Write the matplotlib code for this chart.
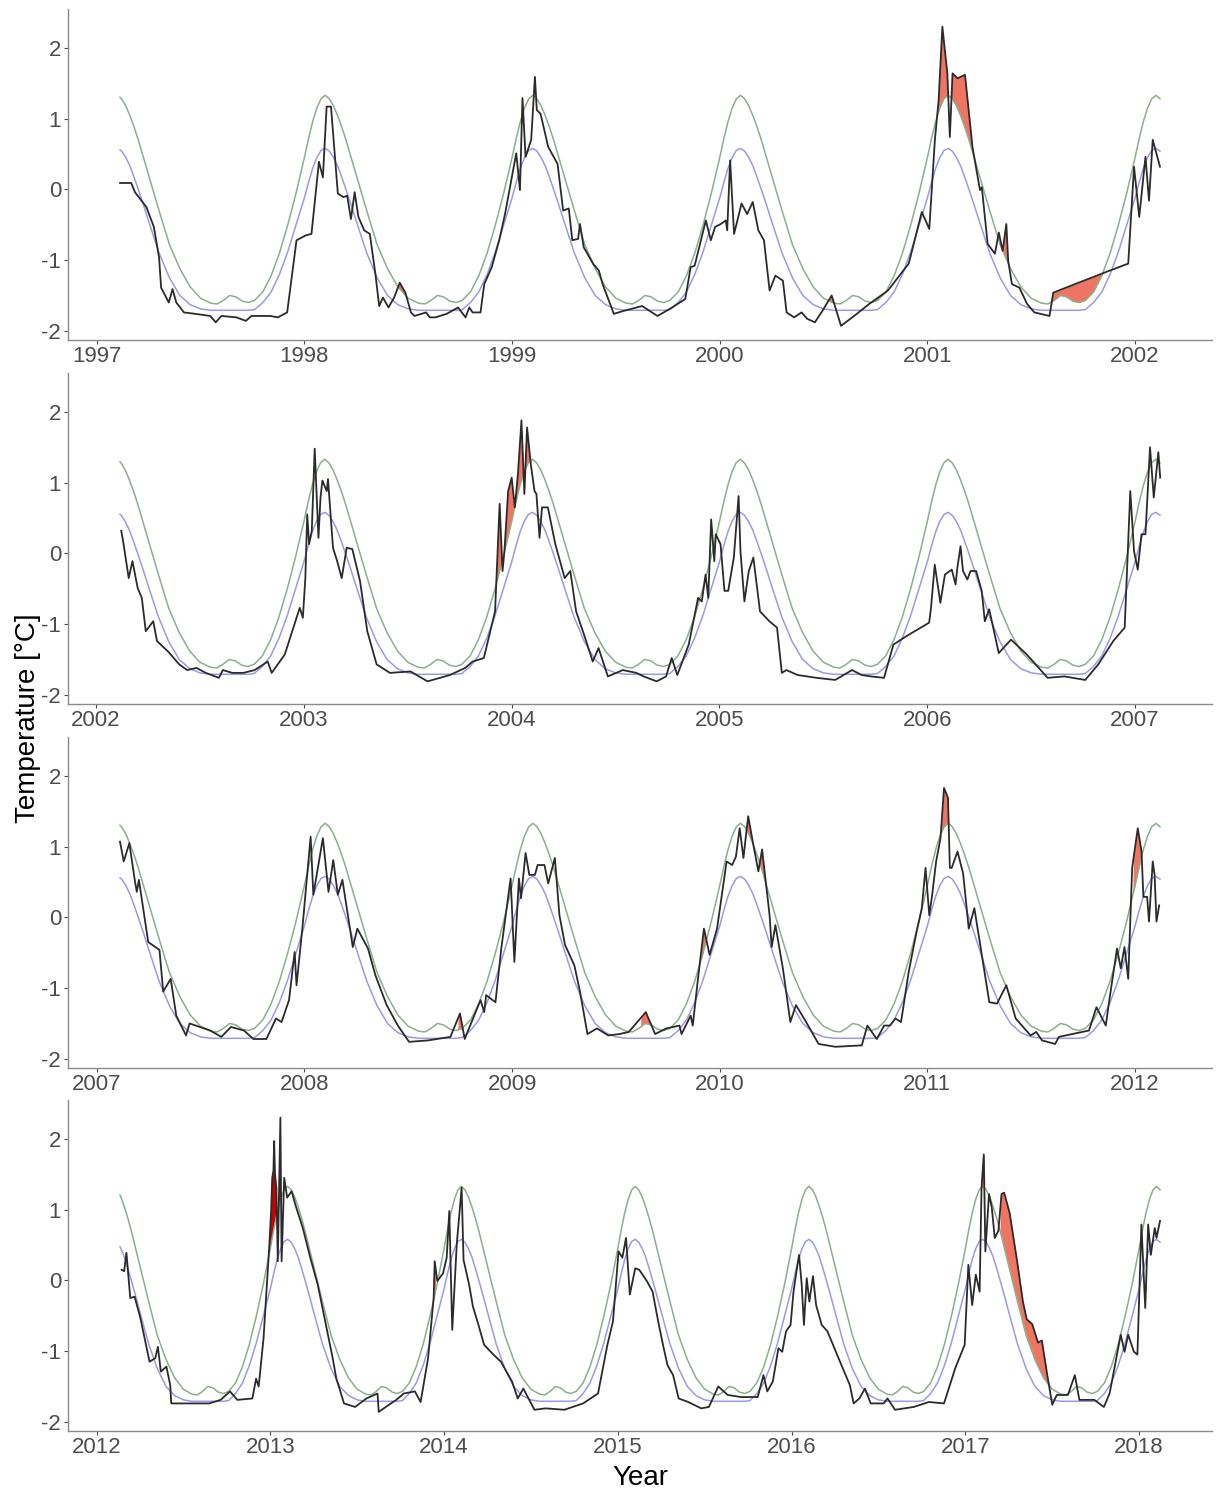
import numpy as np
import matplotlib
matplotlib.use("Agg")
import matplotlib.pyplot as plt

plt.rcParams["font.family"] = ["Liberation Sans", "DejaVu Sans"]
plt.rcParams["axes.unicode_minus"] = False

# one annual cycle of the climatology (fraction of year -> degC)
cycle_frac = [0.00, 0.02, 0.04, 0.06, 0.08, 0.10, 0.12, 0.14, 0.16, 0.18, 0.20, 0.225, 0.25,
              0.30, 0.35, 0.40, 0.45, 0.50, 0.55, 0.58, 0.61, 0.64, 0.67, 0.70, 0.73, 0.76,
              0.80, 0.84, 0.88, 0.92, 0.96]
seas_cycle = [-0.12, 0.10, 0.30, 0.45, 0.55, 0.58, 0.54, 0.45, 0.33, 0.17, 0.0, -0.22, -0.45,
              -0.90, -1.25, -1.50, -1.63, -1.69, -1.71, -1.71, -1.71, -1.71, -1.71, -1.71, -1.71, -1.70,
              -1.60, -1.45, -1.20, -0.88, -0.50]
thresh_cycle = [0.45, 0.72, 0.96, 1.15, 1.28, 1.33, 1.28, 1.18, 1.04, 0.88, 0.70, 0.45, 0.20,
                -0.30, -0.78, -1.12, -1.38, -1.54, -1.61, -1.62, -1.57, -1.50, -1.52, -1.58, -1.60, -1.57,
                -1.45, -1.22, -0.90, -0.50, -0.05]

# start / end of each panel (decimal years)
panel_start = [1997.112, 2002.115, 2007.112, 2012.135]
panel_end = [2002.12, 2007.12, 2012.12, 2018.12]

# observed temperature, panel by panel
obs_yr_1 = [1997.112, 1997.166, 1997.184, 1997.239, 1997.275, 1997.30, 1997.31, 1997.347, 1997.365, 1997.383,
            1997.42, 1997.474, 1997.546, 1997.573, 1997.60, 1997.673, 1997.718, 1997.745, 1997.835, 1997.872,
            1997.917, 1997.962, 1998.007, 1998.034, 1998.07, 1998.089, 1998.107, 1998.128, 1998.161, 1998.188,
            1998.206, 1998.224, 1998.242, 1998.26, 1998.288, 1998.315, 1998.342, 1998.36, 1998.378, 1998.405,
            1998.432, 1998.459, 1998.486, 1998.513, 1998.53, 1998.586, 1998.604, 1998.63, 1998.685, 1998.74,
            1998.776, 1998.794, 1998.81, 1998.848, 1998.866, 1998.902, 1998.938, 1998.966, 1999.002, 1999.02,
            1999.038, 1999.05, 1999.065, 1999.092, 1999.11, 1999.119, 1999.137, 1999.174, 1999.219, 1999.246,
            1999.273, 1999.29, 1999.318, 1999.327, 1999.345, 1999.39, 1999.418, 1999.436, 1999.49, 1999.535,
            1999.626, 1999.70, 1999.76, 1999.834, 1999.86, 1999.879, 1999.933, 1999.957, 1999.978, 2000.005,
            2000.029, 2000.036, 2000.05, 2000.069, 2000.105, 2000.132, 2000.159, 2000.186, 2000.213, 2000.24,
            2000.268, 2000.304, 2000.322, 2000.358, 2000.394, 2000.421, 2000.458, 2000.494, 2000.539, 2000.557,
            2000.584, 2000.647, 2000.72, 2000.81, 2000.91, 2000.973, 2001.009, 2001.036, 2001.054, 2001.072,
            2001.096, 2001.108, 2001.121, 2001.145, 2001.181, 2001.217, 2001.253, 2001.262, 2001.29, 2001.325,
            2001.344, 2001.362, 2001.38, 2001.389, 2001.407, 2001.443, 2001.48, 2001.515, 2001.588, 2001.606,
            2001.859, 2001.967, 2001.995, 2002.02, 2002.05, 2002.067, 2002.085, 2002.12]
obs_t_1 = [0.09, 0.09, -0.04, -0.25, -0.53, -0.96, -1.39, -1.60, -1.41, -1.60,
           -1.74, -1.76, -1.79, -1.88, -1.79, -1.81, -1.86, -1.79, -1.79, -1.81,
           -1.74, -0.72, -0.65, -0.63, 0.39, 0.17, 1.17, 1.17, -0.06, -0.11,
           -0.09, -0.42, -0.04, -0.39, -0.58, -0.63, -1.20, -1.65, -1.53, -1.67,
           -1.53, -1.32, -1.46, -1.74, -1.79, -1.74, -1.81, -1.81, -1.76, -1.67,
           -1.81, -1.67, -1.74, -1.74, -1.34, -1.10, -0.72, -0.35, 0.22, 0.51,
           -0.01, 1.29, 0.46, 0.70, 1.59, 1.12, 1.07, 0.60, 0.36, -0.30,
           -0.27, -0.72, -0.70, -0.49, -0.82, -1.05, -1.15, -1.34, -1.76, -1.72,
           -1.65, -1.79, -1.69, -1.55, -1.10, -1.08, -0.44, -0.72, -0.53, -0.49,
           -0.44, -0.58, 0.41, -0.63, -0.20, -0.35, -0.18, -0.58, -0.72, -1.43,
           -1.22, -1.29, -1.74, -1.81, -1.74, -1.83, -1.88, -1.72, -1.50, -1.67,
           -1.93, -1.79, -1.62, -1.43, -1.05, -0.32, -0.56, 0.70, 1.26, 2.30,
           1.64, 0.74, 1.64, 1.57, 1.62, 0.60, -0.01, 0.03, -0.77, -0.91,
           -0.61, -0.87, -0.49, -1.01, -1.34, -1.39, -1.62, -1.74, -1.79, -1.46,
           -1.17, -1.05, 0.32, -0.39, 0.46, -0.16, 0.70, 0.32]

obs_yr_2 = [2002.121, 2002.13, 2002.157, 2002.175, 2002.20, 2002.22, 2002.239, 2002.275, 2002.293, 2002.347,
            2002.40, 2002.438, 2002.483, 2002.528, 2002.591, 2002.61, 2002.655, 2002.709, 2002.763, 2002.826,
            2002.845, 2002.908, 2002.98, 2002.995, 2003.007, 2003.016, 2003.025, 2003.038, 2003.052, 2003.07,
            2003.08, 2003.089, 2003.11, 2003.116, 2003.14, 2003.16, 2003.182, 2003.206, 2003.233, 2003.27,
            2003.305, 2003.35, 2003.414, 2003.513, 2003.595, 2003.703, 2003.776, 2003.812, 2003.866, 2003.92,
            2003.942, 2003.956, 2003.965, 2003.983, 2004.0, 2004.015, 2004.03, 2004.047, 2004.061, 2004.074,
            2004.092, 2004.11, 2004.119, 2004.134, 2004.146, 2004.174, 2004.21, 2004.255, 2004.282, 2004.31,
            2004.354, 2004.39, 2004.418, 2004.463, 2004.535, 2004.60, 2004.635, 2004.698, 2004.743, 2004.77,
            2004.797, 2004.852, 2004.897, 2004.915, 2004.933, 2004.946, 2004.96, 2004.975, 2004.982, 2005.005,
            2005.024, 2005.042, 2005.069, 2005.092, 2005.101, 2005.12, 2005.141, 2005.163, 2005.195, 2005.24,
            2005.277, 2005.30, 2005.322, 2005.376, 2005.467, 2005.557, 2005.638, 2005.684, 2005.729, 2005.792,
            2005.837, 2005.90, 2006.009, 2006.018, 2006.036, 2006.063, 2006.085, 2006.118, 2006.136, 2006.145,
            2006.16, 2006.172, 2006.193, 2006.208, 2006.235, 2006.262, 2006.277, 2006.298, 2006.344, 2006.403,
            2006.479, 2006.579, 2006.66, 2006.76, 2006.823, 2006.895, 2006.95, 2006.977, 2006.995, 2007.013,
            2007.031, 2007.05, 2007.072, 2007.09, 2007.112, 2007.121]
obs_t_2 = [0.32, 0.17, -0.35, -0.11, -0.49, -0.63, -1.10, -0.96, -1.24, -1.39,
           -1.57, -1.65, -1.62, -1.69, -1.76, -1.65, -1.69, -1.69, -1.65, -1.53,
           -1.69, -1.43, -0.77, -0.91, -0.35, 0.55, 0.13, 0.32, 1.48, 0.22,
           0.79, 1.03, 0.88, 1.05, 0.08, -0.11, -0.35, 0.08, 0.06, -0.39,
           -1.10, -1.57, -1.69, -1.67, -1.81, -1.72, -1.62, -1.53, -1.48, -0.82,
           0.70, -0.25, 0.03, 0.88, 1.07, 0.65, 1.12, 1.88, 0.84, 1.78,
           1.26, 0.88, 0.84, 0.22, 0.65, 0.65, 0.13, -0.35, -0.25, -0.82,
           -1.20, -1.53, -1.34, -1.74, -1.65, -1.69, -1.74, -1.81, -1.74, -1.48,
           -1.72, -1.29, -0.63, -0.68, -0.30, -0.63, 0.48, -0.11, 0.27, 0.13,
           -0.53, -0.53, -0.06, 0.81, 0.03, -0.68, -0.25, -0.06, -0.82, -0.96,
           -1.05, -1.69, -1.65, -1.72, -1.76, -1.79, -1.65, -1.72, -1.74, -1.76,
           -1.29, -1.17, -0.98, -0.77, -0.16, -0.70, -0.30, -0.23, -0.44, -0.20,
           0.10, -0.25, -0.37, -0.25, -0.25, -0.53, -0.96, -0.79, -1.41, -1.22,
           -1.43, -1.76, -1.74, -1.79, -1.57, -1.24, -1.05, 0.88, 0.03, -0.23,
           0.27, 0.27, 1.50, 0.79, 1.43, 1.07]

obs_yr_3 = [2007.112, 2007.13, 2007.157, 2007.184, 2007.193, 2007.203, 2007.248, 2007.302, 2007.32, 2007.356,
            2007.383, 2007.43, 2007.447, 2007.546, 2007.60, 2007.646, 2007.709, 2007.754, 2007.817, 2007.863,
            2007.89, 2007.926, 2007.953, 2007.962, 2007.99, 2008.03, 2008.043, 2008.089, 2008.116, 2008.139,
            2008.161, 2008.183, 2008.233, 2008.255, 2008.306, 2008.342, 2008.396, 2008.45, 2008.504, 2008.595,
            2008.703, 2008.749, 2008.772, 2008.812, 2008.848, 2008.866, 2008.875, 2008.92, 2008.948, 2008.993,
            2009.011, 2009.033, 2009.043, 2009.065, 2009.083, 2009.11, 2009.123, 2009.156, 2009.174, 2009.206,
            2009.228, 2009.255, 2009.30, 2009.327, 2009.363, 2009.409, 2009.463, 2009.517, 2009.562, 2009.644,
            2009.689, 2009.743, 2009.806, 2009.816, 2009.86, 2009.87, 2009.897, 2009.924, 2009.951, 2009.987,
            2010.033, 2010.06, 2010.078, 2010.096, 2010.114, 2010.137, 2010.159, 2010.186, 2010.204, 2010.24,
            2010.25, 2010.268, 2010.304, 2010.34, 2010.367, 2010.412, 2010.476, 2010.557, 2010.684, 2010.711,
            2010.756, 2010.792, 2010.82, 2010.846, 2010.873, 2010.91, 2010.946, 2010.973, 2010.991, 2011.009,
            2011.023, 2011.042, 2011.063, 2011.08, 2011.099, 2011.108, 2011.117, 2011.145, 2011.172, 2011.199,
            2011.226, 2011.262, 2011.298, 2011.335, 2011.38, 2011.425, 2011.497, 2011.524, 2011.552, 2011.615,
            2011.633, 2011.778, 2011.814, 2011.859, 2011.877, 2011.913, 2011.931, 2011.949, 2011.967, 2011.986,
            2012.013, 2012.031, 2012.04, 2012.058, 2012.067, 2012.085, 2012.094, 2012.103, 2012.116]
obs_t_3 = [1.07, 0.79, 1.05, 0.51, 0.36, 0.53, -0.35, -0.46, -1.05, -0.87,
           -1.39, -1.67, -1.50, -1.60, -1.69, -1.55, -1.60, -1.72, -1.72, -1.43,
           -1.48, -1.17, -0.49, -0.96, -0.16, 1.14, 0.32, 1.12, 0.36, 0.81,
           0.32, 0.53, -0.42, -0.16, -0.44, -0.82, -1.24, -1.53, -1.76, -1.74,
           -1.69, -1.36, -1.72, -1.43, -1.17, -1.34, -1.10, -1.20, -0.44, 0.55,
           -0.63, 0.55, 0.27, 0.91, 0.60, 0.60, 0.74, 0.74, 0.48, 0.84,
           0.03, -0.39, -0.68, -1.05, -1.65, -1.57, -1.67, -1.65, -1.62, -1.34,
           -1.65, -1.57, -1.53, -1.65, -1.39, -1.53, -0.82, -0.16, -0.53, -0.16,
           0.79, 0.74, 0.86, 1.26, 0.84, 1.43, 1.07, 0.65, 0.96, 0.03,
           -0.42, -0.11, -0.72, -1.48, -1.24, -1.46, -1.79, -1.83, -1.81, -1.53,
           -1.72, -1.53, -1.53, -1.43, -1.48, -0.77, -0.23, 0.13, 0.70, 0.03,
           0.32, 0.79, 1.12, 1.83, 1.69, 0.70, 0.70, 0.93, 0.62, -0.16,
           0.13, -0.53, -1.20, -1.22, -0.96, -1.43, -1.67, -1.62, -1.74, -1.79,
           -1.69, -1.60, -1.27, -1.53, -1.15, -0.44, -0.72, -0.42, -0.87, 0.70,
           1.26, 0.93, 0.29, 0.29, -0.06, 0.79, 0.60, -0.06, 0.17]

obs_yr_4 = [2012.144, 2012.159, 2012.172, 2012.194, 2012.219, 2012.252, 2012.305, 2012.338, 2012.353, 2012.37,
            2012.402, 2012.424, 2012.43, 2012.542, 2012.649, 2012.714, 2012.768, 2012.81, 2012.897, 2012.918,
            2012.933, 2012.961, 2012.994, 2013.005, 2013.011, 2013.018, 2013.022, 2013.027, 2013.035, 2013.043,
            2013.058, 2013.065, 2013.08,
            2013.097, 2013.123, 2013.144, 2013.187, 2013.23, 2013.273, 2013.316, 2013.359, 2013.38, 2013.398,
            2013.424, 2013.488, 2013.553, 2013.617, 2013.624, 2013.682, 2013.725, 2013.768, 2013.832, 2013.865,
            2013.908, 2013.94, 2013.946, 2013.961, 2013.994, 2014.015, 2014.03, 2014.047, 2014.073, 2014.101,
            2014.112, 2014.144, 2014.166, 2014.198, 2014.23, 2014.284, 2014.327, 2014.391, 2014.424, 2014.456,
            2014.52, 2014.585, 2014.692, 2014.80, 2014.886, 2014.94, 2014.972, 2015.004, 2015.026, 2015.047,
            2015.069, 2015.10, 2015.123, 2015.167, 2015.20, 2015.232, 2015.264, 2015.286, 2015.318, 2015.35,
            2015.405, 2015.48, 2015.524, 2015.578, 2015.632, 2015.708, 2015.805, 2015.838, 2015.86, 2015.892,
            2015.924, 2015.946, 2015.968, 2015.994, 2016.011, 2016.028, 2016.043, 2016.058, 2016.071, 2016.087,
            2016.102, 2016.123, 2016.141, 2016.173, 2016.206, 2016.27, 2016.335, 2016.357, 2016.39, 2016.422,
            2016.455, 2016.53, 2016.552, 2016.595, 2016.703, 2016.79, 2016.877, 2016.942, 2016.996, 2017.017,
            2017.039, 2017.06, 2017.082, 2017.093, 2017.106, 2017.115, 2017.136, 2017.152, 2017.169, 2017.19,
            2017.208, 2017.223, 2017.255, 2017.299, 2017.331, 2017.353, 2017.385, 2017.418, 2017.44, 2017.472,
            2017.50, 2017.526, 2017.59, 2017.63, 2017.656, 2017.742, 2017.797, 2017.83, 2017.894, 2017.916,
            2017.937, 2017.97, 2017.99, 2018.013, 2018.035, 2018.052, 2018.067, 2018.09, 2018.10, 2018.12]
obs_t_4 = [0.15, 0.13, 0.39, -0.25, -0.23, -0.53, -1.15, -1.10, -0.94, -1.29,
           -1.22, -1.48, -1.74, -1.74, -1.74, -1.69, -1.57, -1.69, -1.67, -1.39,
           -1.50, -0.82, 0.48, 1.00, 1.45, 1.55, 1.97, 1.50, 1.30, 0.27,
           2.30, 0.27, 1.45,
           1.17, 1.26, 1.07, 0.74, 0.32, -0.06, -0.58, -1.10, -1.39, -1.53,
           -1.74, -1.79, -1.67, -1.60, -1.86, -1.76, -1.69, -1.60, -1.57, -1.72,
           -1.10, -0.25, 0.27, -0.01, 0.10, 0.32, 0.98, -0.70, 0.51, 1.31,
           0.29, -0.06, -0.37, -0.63, -0.91, -1.05, -1.15, -1.43, -1.67, -1.53,
           -1.83, -1.81, -1.83, -1.74, -1.60, -0.91, -0.58, 0.41, 0.32, 0.60,
           -0.20, 0.17, 0.15, -0.01, -0.16, -0.58, -0.96, -1.20, -1.34, -1.67,
           -1.72, -1.81, -1.79, -1.50, -1.62, -1.65, -1.65, -1.34, -1.57, -1.43,
           -0.96, -1.01, -0.72, -0.63, -0.16, 0.13, 0.36, -0.06, -0.63, 0.03,
           -0.30, 0.06, -0.35, -0.63, -0.72, -1.10, -1.48, -1.74, -1.67, -1.53,
           -1.74, -1.74, -1.67, -1.83, -1.79, -1.72, -1.74, -1.24, -0.91, 0.22,
           -0.35, 0.08, -0.16, 1.31, 1.78, 0.41, 1.22, 1.03, 0.60, 0.70,
           1.22, 1.24, 0.95, 0.25, -0.30, -0.55, -0.62, -0.88, -0.85, -1.35,
           -1.76, -1.62, -1.62, -1.34, -1.69, -1.69, -1.79, -1.60, -0.77, -1.01,
           -0.77, -1.01, -1.05, 0.79, -0.39, 0.79, 0.36, 0.74, 0.60, 0.84]

obs_years = [obs_yr_1, obs_yr_2, obs_yr_3, obs_yr_4]
obs_temps = [obs_t_1, obs_t_2, obs_t_3, obs_t_4]

# heatwave events drawn as flames (start, end)
events = [(1998.44, 1998.50), (2000.52, 2000.57), (2000.70, 2000.95), (2001.03, 2001.26),
          (2001.36, 2001.40), (2001.59, 2001.87), (2003.93, 2004.12), (2004.87, 2004.93),
          (2008.74, 2008.76), (2009.62, 2009.69), (2009.91, 2009.94), (2010.12, 2010.22),
          (2011.06, 2011.11), (2011.99, 2012.04), (2013.07, 2013.13), (2013.94, 2013.95),
          (2017.09, 2017.12), (2017.20, 2017.49)]
top_event = (2012.98, 2013.07)

flame_col = "#f07462"
top_col = "#cc0000"
thresh_col = "#8cae8c"
seas_col = "#9a9ae6"
obs_col = "#2b2b2b"
grey_txt = "#4d4d4d"


def climatology(start, end, cycle):
    """tile the annual cycle over the panel's years"""
    xs, ys = [], []
    for yr in range(int(start) - 1, int(end) + 2):
        for f, v in zip(cycle_frac, cycle):
            xs.append(yr + f)
            ys.append(v)
    xs, ys = np.array(xs), np.array(ys)
    keep = (xs > start) & (xs < end)
    x = np.concatenate([[start], xs[keep], [end]])
    y = np.concatenate([[np.interp(start, xs, ys)], ys[keep], [np.interp(end, xs, ys)]])
    return x, y


W, H = 1220, 1497
fig = plt.figure(figsize=(W / 100, H / 100), dpi=100)
tops = [9, 373, 737, 1100]
ax_h = 331

for i in range(4):
    ax = fig.add_axes([68 / W, 1 - (tops[i] + ax_h) / H, (1212 - 68) / W, ax_h / H])
    s, e = panel_start[i], panel_end[i]
    ox, oy = np.array(obs_years[i]), np.array(obs_temps[i])
    cx, seas = climatology(s, e, seas_cycle)
    _, thr = climatology(s, e, thresh_cycle)

    # flames: obs above threshold inside event windows
    grid = np.union1d(np.union1d(ox, cx), np.linspace(s, e, 3000))
    g_obs = np.interp(grid, ox, oy)
    g_thr = np.interp(grid, cx, thr)
    for win, col in [(w, flame_col) for w in events] + [(top_event, top_col)]:
        inwin = (grid >= win[0]) & (grid <= win[1])
        if not inwin.any():
            continue
        ax.fill_between(grid, g_thr, g_obs, where=inwin & (g_obs > g_thr),
                        interpolate=True, color=col, lw=0, zorder=1)

    ax.plot(cx, thr, color=thresh_col, lw=1.1, zorder=2)
    ax.plot(cx, seas, color=seas_col, lw=1.1, zorder=2)
    ax.plot(ox, oy, color=obs_col, lw=1.3, zorder=3)

    pad = 0.05 * (e - s)
    ax.set_xlim(s - pad, e + pad)
    ax.set_ylim(-2.13, 2.55)
    ax.set_yticks([-2, -1, 0, 1, 2])
    ax.set_xticks(range(int(np.ceil(s - pad)), int(e + pad) + 1))
    ax.tick_params(colors=grey_txt, labelsize=16, length=3, width=0.8, pad=2)
    ax.tick_params(axis="x", pad=1)
    for sp in ["top", "right"]:
        ax.spines[sp].set_visible(False)
    for sp in ["left", "bottom"]:
        ax.spines[sp].set_color("#8a8a8a")
        ax.spines[sp].set_linewidth(1.0)
    ax.set_facecolor("white")

fig.text(28 / W, 0.52, "Temperature [°C]", rotation=90, ha="center", va="center", fontsize=20)
fig.text(640 / W, 1 - 1478 / H, "Year", ha="center", va="center", fontsize=20)

fig.savefig("out.png", dpi=100)
